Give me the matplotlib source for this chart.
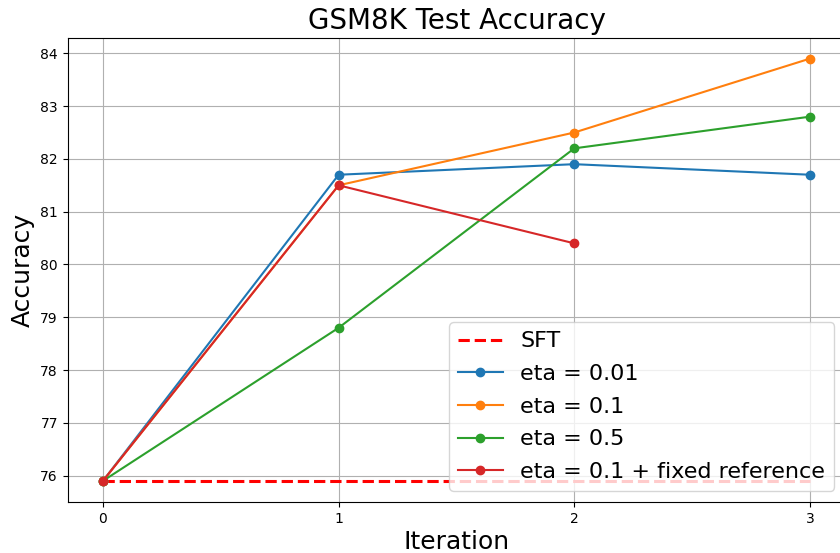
import matplotlib
matplotlib.use("Agg")
import matplotlib.pyplot as plt

iterations = [0, 1, 2, 3]
sft_value = 75.9
eta_001 = [75.9, 81.7, 81.9, 81.7]
eta_01 = [75.9, 81.5, 82.5, 83.9]
eta_05 = [75.9, 78.8, 82.2, 82.8]
eta_01_fixed = [75.9, 81.5, 80.4]

fig = plt.figure(figsize=(8.4, 5.53), dpi=100)
ax = fig.add_axes([67.6/840, 51/553, 777.7/840, 464.5/553])

ax.plot(iterations, [sft_value]*len(iterations), 'r--', linewidth=2.2, label='SFT')
ax.plot(iterations, eta_001, marker='o', color='#1f77b4', label='eta = 0.01')
ax.plot(iterations, eta_01, marker='o', color='#ff7f0e', label='eta = 0.1')
ax.plot(iterations, eta_05, marker='o', color='#2ca02c', label='eta = 0.5')
ax.plot(iterations[:3], eta_01_fixed, marker='o', color='#d62728', label='eta = 0.1 + fixed reference')

ax.set_xticks(iterations)
ax.set_title('GSM8K Test Accuracy', fontsize=20)
ax.set_xlabel('Iteration', fontsize=18, labelpad=3)
ax.set_ylabel('Accuracy', fontsize=18)
ax.grid(True)
ax.legend(fontsize=16, loc='lower right', labelspacing=0.57)

fig.savefig('out.png', dpi=100)
